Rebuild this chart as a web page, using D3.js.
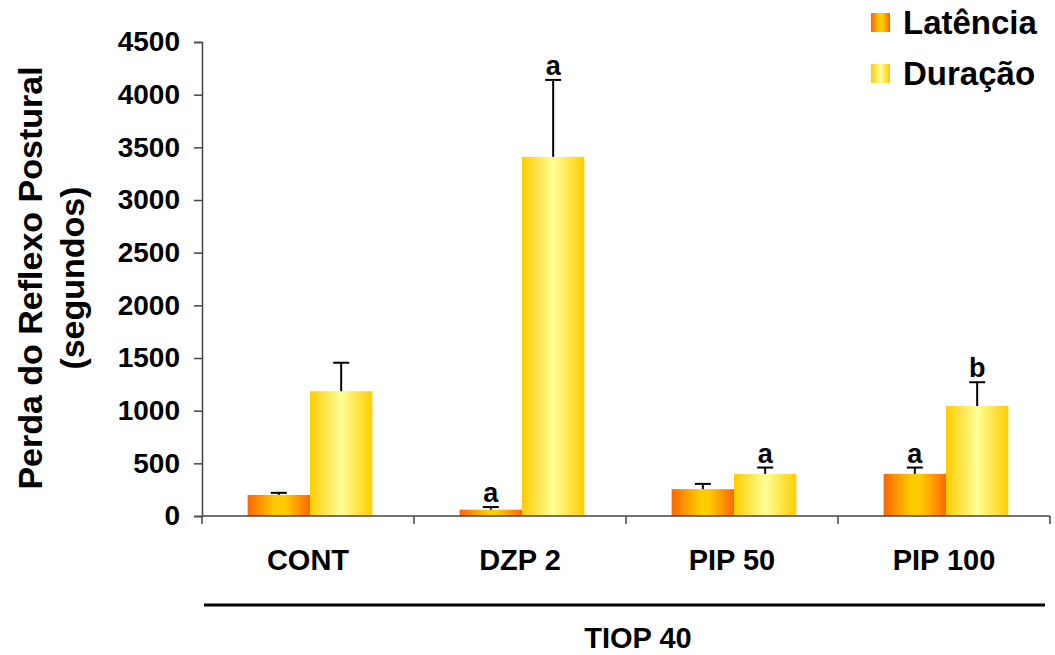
<!DOCTYPE html>
<html>
<head>
<meta charset="utf-8">
<script src="https://cdn.jsdelivr.net/npm/d3@7"></script>
<style>
  body { margin: 0; background: #fff; }
  svg { font-family: "Liberation Sans", Arial, sans-serif; font-weight: bold; }
</style>
</head>
<body>
<svg id="chart" width="1055" height="655"></svg>
<script>
// ─── Data ────────────────────────────────────────────────────────
const categories = ["CONT", "DZP 2", "PIP 50", "PIP 100"];
const seriesNames = ["Latência", "Duração"];
const latencia = [200, 60, 255, 400];
const latenciaErr = [220, 85, 305, 460];
const duracao = [1185, 3410, 400, 1045];
const duracaoErr = [1455, 4140, 460, 1270];
const latenciaMark = ["", "a", "", "a"];
const duracaoMark = ["", "a", "a", "b"];
const yTicks = [0, 500, 1000, 1500, 2000, 2500, 3000, 3500, 4000, 4500];

const svg = d3.select("#chart");
const margin = { left: 202, top: 42 };
const plotW = 1050 - margin.left;
const plotH = 516 - margin.top;
const font = "Liberation Sans, Arial, sans-serif";

// ─── Gradients ───────────────────────────────────────────────────
const defs = svg.append("defs");
function grad(id, stops) {
  const g = defs.append("linearGradient").attr("id", id)
    .attr("x1", "0%").attr("x2", "100%").attr("y1", "0%").attr("y2", "0%");
  stops.forEach(([o, c]) => g.append("stop").attr("offset", o).attr("stop-color", c));
}
grad("gLat", [["0%", "#ff6600"], ["45%", "#ffcc00"], ["60%", "#ffcc00"], ["100%", "#ff6600"]]);
grad("gDur", [["0%", "#ffcc00"], ["50%", "#ffff99"], ["100%", "#ffcc00"]]);
const fills = ["url(#gLat)", "url(#gDur)"];

// ─── Scales ──────────────────────────────────────────────────────
const x = d3.scaleBand().domain(categories).range([0, plotW]);
const inner = d3.scaleBand().domain(seriesNames).range([0, x.bandwidth()]).paddingOuter(0.7).paddingInner(0);
const y = d3.scaleLinear().domain([0, 4500]).range([plotH, 0]);

const g = svg.append("g").attr("transform", `translate(${margin.left},${margin.top})`);

// ─── Bars ────────────────────────────────────────────────────────
const rows = categories.map((c, i) => ({
  cat: c,
  vals: [
    { s: seriesNames[0], v: latencia[i], e: latenciaErr[i], m: latenciaMark[i], f: fills[0] },
    { s: seriesNames[1], v: duracao[i], e: duracaoErr[i], m: duracaoMark[i], f: fills[1] },
  ],
}));

const grp = g.selectAll(".grp").data(rows).join("g")
  .attr("transform", d => `translate(${x(d.cat) + 2},0)`);

const item = grp.selectAll(".bar").data(d => d.vals).join("g");
const cx = d => inner(d.s) + inner.bandwidth() / 2;

item.append("rect")
  .attr("x", d => inner(d.s))
  .attr("y", d => y(d.v))
  .attr("width", inner.bandwidth())
  .attr("height", d => plotH - y(d.v))
  .attr("fill", d => d.f);

// error bars
const cap = 8;
item.append("line")
  .attr("x1", cx).attr("x2", cx)
  .attr("y1", d => y(d.v)).attr("y2", d => y(d.e))
  .attr("stroke", "#000").attr("stroke-width", 2);
item.append("line")
  .attr("x1", d => cx(d) - cap).attr("x2", d => cx(d) + cap)
  .attr("y1", d => y(d.e)).attr("y2", d => y(d.e))
  .attr("stroke", "#000").attr("stroke-width", 2);

// significance letters
item.filter(d => d.m).append("text")
  .attr("x", cx)
  .attr("y", d => y(d.e) - 5)
  .attr("text-anchor", "middle")
  .attr("font-size", 27)
  .text(d => d.m);

// ─── Axes ────────────────────────────────────────────────────────
const yAxis = g.append("g")
  .call(d3.axisLeft(y).tickValues(yTicks).tickFormat(d3.format("d")).tickSize(8).tickPadding(14).tickSizeOuter(8));
yAxis.select(".domain").attr("stroke", "#444").attr("stroke-width", 1.5);
yAxis.selectAll(".tick line").attr("stroke", "#444").attr("stroke-width", 1.5);
yAxis.selectAll(".tick text")
  .attr("font-size", 28).attr("font-weight", "bold").attr("fill", "#000")
  .attr("font-family", font);

const xAxis = g.append("g").attr("transform", `translate(0,${plotH})`);
xAxis.append("line").attr("x1", 0).attr("x2", plotW).attr("y1", 0).attr("y2", 0)
  .attr("stroke", "#444").attr("stroke-width", 1.5);
xAxis.selectAll(".sep").data([...categories.map(c => x(c)), plotW]).join("line")
  .attr("x1", d => d).attr("x2", d => d).attr("y1", 0).attr("y2", 8)
  .attr("stroke", "#444").attr("stroke-width", 1.5);
xAxis.selectAll(".lbl").data(categories).join("text")
  .attr("x", d => x(d) + x.bandwidth() / 2)
  .attr("y", 54)
  .attr("text-anchor", "middle")
  .attr("font-size", 29)
  .text(d => d);

// group line & title
svg.append("line").attr("x1", 204).attr("x2", 1045).attr("y1", 605).attr("y2", 605)
  .attr("stroke", "#000").attr("stroke-width", 3);
svg.append("text").attr("x", 638).attr("y", 648).attr("text-anchor", "middle")
  .attr("font-size", 29).text("TIOP 40");

// ─── Y label ─────────────────────────────────────────────────────
const yl = svg.append("text").attr("transform", "translate(0,278) rotate(-90)")
  .attr("text-anchor", "middle").attr("font-size", 34);
yl.append("tspan").attr("x", 0).attr("y", 42).text("Perda do Reflexo Postural");
yl.append("tspan").attr("x", 0).attr("y", 84).text("(segundos)");

// ─── Legend ──────────────────────────────────────────────────────
const legend = svg.append("g").attr("transform", "translate(871,13)");
seriesNames.forEach((n, i) => {
  const it = legend.append("g").attr("transform", `translate(0,${i * 51})`);
  it.append("rect").attr("width", 19).attr("height", 19).attr("fill", fills[i]);
  it.append("text").attr("x", 32).attr("y", 21).attr("font-size", 33).text(n);
});
</script>
</body>
</html>
